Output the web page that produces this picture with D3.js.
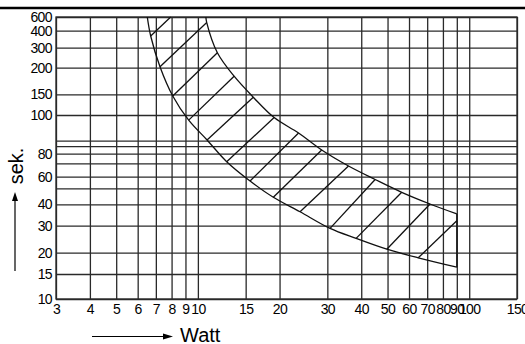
<!DOCTYPE html>
<html>
<head>
<meta charset="utf-8">
<script src="https://cdn.jsdelivr.net/npm/d3@7"></script>
<style>
body { margin: 0; background: #fff; }
svg { display: block; font-family: "Liberation Sans", Arial, sans-serif; }
</style>
</head>
<body>
<div id="chart"></div>
<script>
// axis ticks
const xTicks = [3, 4, 5, 6, 7, 8, 9, 10, 15, 20, 30, 40, 50, 60, 70, 80, 90, 100, 150];
const yGrid = [10, 15, 20, 30, 40, 50, 60, 70, 80, 85, 90, 100, 150, 200, 300, 400, 600];
const yLabels = [10, 15, 20, 30, 40, 60, 80, 100, 150, 200, 300, 400, 600];

// lower (inner) boundary of the hatched band: Watt / sek.
const lowerWatt = [6.51, 6.70, 7.25, 8.08, 9.25, 10.81, 12.77, 15.57, 18.97, 23.8, 30.7, 38.3, 49.7, 64.9, 90];
const lowerSek = [600, 369, 205, 146, 98, 90.3, 71.7, 56.3, 44.4, 36.5, 29.0, 25.3, 21.3, 18.8, 16.6];
// upper (outer) boundary
const upperWatt = [10.7, 10.78, 11.8, 13.6, 16.0, 19.1, 23.5, 28.6, 35.9, 45.0, 56.4, 71.7, 90];
const upperSek = [600, 519, 275, 184, 143, 99, 93, 82.5, 68, 57.6, 47.5, 40.2, 35.5];
// hatch strokes, from lower edge to upper edge
const hatchWatt1 = [6.70, 7.25, 8.08, 9.25, 10.81, 12.77, 15.57, 18.97, 23.8, 30.7, 38.3, 49.7, 64.9];
const hatchSek1 = [369, 205, 146, 98, 90.3, 71.7, 56.3, 44.4, 36.5, 29.0, 25.3, 21.3, 18.8];
const hatchWatt2 = [7.94, 10.78, 11.8, 13.6, 16.0, 19.1, 23.5, 28.6, 35.9, 45.0, 56.4, 71.7, 90];
const hatchSek2 = [600, 519, 275, 184, 143, 99, 93, 82.5, 68, 57.6, 47.5, 40.2, 32.3];

const W = 525, H = 344;
const margin = {top: 17, left: 56};
const width = 461, height = 282;

const svg = d3.select("#chart").append("svg")
    .attr("width", W)
    .attr("height", H);

// thick rule across the top
svg.append("line")
    .attr("x1", 0).attr("x2", W)
    .attr("y1", 8).attr("y2", 8)
    .attr("stroke", "#000")
    .attr("stroke-width", 2.5);

const g = svg.append("g")
    .attr("transform", "translate(" + margin.left + "," + margin.top + ")");

const x = d3.scaleLog().domain([3, 150]).range([0, width]);

// the time axis of the original is not a clean log scale, so map it piecewise
const yFrac = [1, 0.9113, 0.8358, 0.7401, 0.6642, 0.6074, 0.5663, 0.5188, 0.4848,
    0.4582, 0.4387, 0.3475, 0.2741, 0.1798, 0.1089, 0.0486, 0];
const y = d3.scaleLinear().domain(yGrid).range(yFrac.map(f => f * height));

const gridColor = "#2a2a2a";

const xAxis = g.append("g")
    .attr("transform", "translate(0," + height + ")")
    .call(d3.axisBottom(x)
        .tickValues(xTicks)
        .tickSize(-height)
        .tickPadding(5)
        .tickFormat(d => d));

const yAxis = g.append("g")
    .call(d3.axisLeft(y)
        .tickValues(yGrid)
        .tickSize(-width)
        .tickPadding(4)
        .tickFormat(d => yLabels.includes(d) ? d : ""));

[xAxis, yAxis].forEach(a => {
    a.select(".domain").remove();
    a.selectAll("line").attr("stroke", gridColor).attr("stroke-width", 1.3);
    a.selectAll("text")
        .attr("fill", "#000")
        .style("font-size", "14px")
        .style("letter-spacing", "-0.6px");
});

g.append("rect")
    .attr("width", width)
    .attr("height", height)
    .attr("fill", "none")
    .attr("stroke", gridColor)
    .attr("stroke-width", 1.3);

// hatched band
const line = d3.line()
    .x(d => x(d[0]))
    .y(d => y(d[1]))
    .curve(d3.curveCatmullRom);

const lower = lowerWatt.map((w, i) => [w, lowerSek[i]]);
const upper = upperWatt.map((w, i) => [w, upperSek[i]]);

const band = g.append("g")
    .attr("fill", "none")
    .attr("stroke", "#111")
    .attr("stroke-width", 1.3);

band.append("path").attr("d", line(lower));
band.append("path").attr("d", line(upper));
band.append("line")
    .attr("x1", x(lowerWatt[lowerWatt.length - 1]))
    .attr("y1", y(lowerSek[lowerSek.length - 1]))
    .attr("x2", x(upperWatt[upperWatt.length - 1]))
    .attr("y2", y(upperSek[upperSek.length - 1]));

band.selectAll(".hatch")
    .data(hatchWatt1.map((w, i) => [w, hatchSek1[i], hatchWatt2[i], hatchSek2[i]]))
    .enter()
    .append("line")
    .attr("class", "hatch")
    .attr("x1", d => x(d[0]))
    .attr("y1", d => y(d[1]))
    .attr("x2", d => x(d[2]))
    .attr("y2", d => y(d[3]));

// axis titles with arrows
svg.append("text")
    .attr("x", 180)
    .attr("y", 341.5)
    .style("font-size", "20px")
    .text("Watt");

svg.append("line")
    .attr("x1", 92).attr("x2", 166)
    .attr("y1", 336.5).attr("y2", 336.5)
    .attr("stroke", "#000").attr("stroke-width", 1.2);
svg.append("path")
    .attr("d", "M163,333.5L173,336.5L163,339.5Z")
    .attr("fill", "#000");

svg.append("text")
    .attr("transform", "translate(22.5,166) rotate(-90)")
    .attr("text-anchor", "middle")
    .style("font-size", "20px")
    .text("sek.");

svg.append("line")
    .attr("x1", 15).attr("x2", 15)
    .attr("y1", 271).attr("y2", 199)
    .attr("stroke", "#000").attr("stroke-width", 1.2);
svg.append("path")
    .attr("d", "M12,201L15,192L18,201Z")
    .attr("fill", "#000");
</script>
</body>
</html>
